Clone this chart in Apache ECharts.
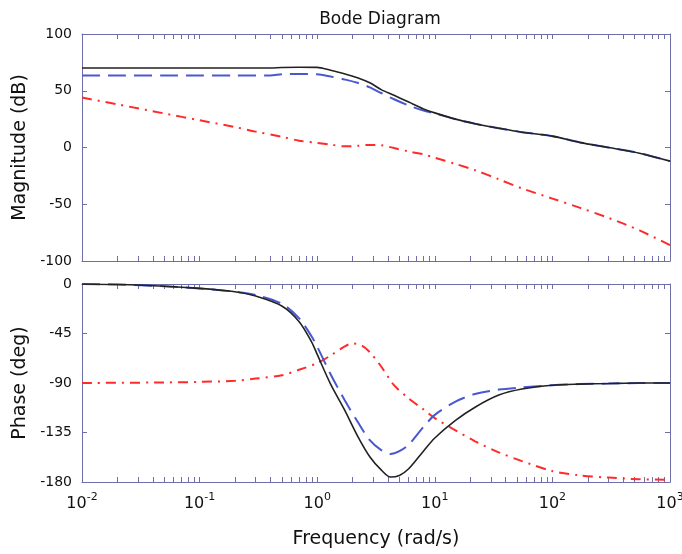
<!DOCTYPE html>
<html>
<head>
<meta charset="utf-8">
<script src="https://cdn.jsdelivr.net/npm/echarts@6/dist/echarts.min.js"></script>
<style>html,body{margin:0;padding:0;background:#fff}#c{width:682px;height:554px}</style>
</head>
<body>
<div id="c"></div>
<script>
// ---- data ----
var freqMagK = [0.01,0.02,0.05,0.1,0.2,0.4,0.5,0.7,1,1.3,1.7,2.2,2.8,3.5,4.5,6,8,10,15,22,35,55,100,170,300,550,1000];
var magK     = [70,70,70,70,70,70,70.5,70.7,70.6,68,65,61.5,57,51,46,40,34,30.5,25,21,17,13.5,10,4.5,0,-5,-12];
var freqMagB = [0.01,0.02,0.05,0.1,0.2,0.4,0.5,0.7,1,1.3,1.7,2.2,2.8,3.5,4.5,6,8,10,15,22,35,55,100,170,300,550,1000];
var magB     = [63.5,63.5,63.5,63.5,63.5,63.5,64.5,64.8,64.5,62.5,60,57,53,48,42.5,37,32.5,30,25,21,17,13.5,10,4.5,0,-5,-12];
var freqMagR = [0.01,0.02,0.05,0.1,0.2,0.3,0.5,0.7,1,1.3,1.7,2.2,2.8,3.5,4.5,6,8,10,15,22,35,55,100,170,300,550,1000];
var magR     = [44,38,30,24,18,14,9.5,6,4,2.5,1,1.5,2.3,2,-0.5,-3.5,-6,-9,-14.5,-20,-28,-36,-45,-53,-62,-73,-86];

var freqPhK = [0.01,0.02,0.05,0.1,0.2,0.3,0.5,0.7,0.9,1,1.3,1.7,2.2,2.8,3.5,4.2,5,6,8,10,15,22,35,55,100,170,300,550,1000];
var phK     = [0,-0.5,-2,-4,-7,-11,-20,-34,-53,-64,-91,-114,-138,-157,-169,-175.5,-174,-168,-152,-140,-124,-112,-101,-95.5,-92,-91,-90.5,-90,-90];
var freqPhB = [0.01,0.02,0.05,0.1,0.2,0.3,0.5,0.7,0.9,1,1.3,1.7,2.2,2.8,3.5,4.2,5,6,8,10,15,22,35,55,100,170,300,550,1000];
var phB     = [0,-0.5,-2,-4,-7,-10,-18,-31,-48,-57,-82,-105,-125,-142,-151,-154.5,-152,-146,-130,-119,-107,-100,-96,-94,-92,-91,-90.5,-90,-90];
var freqPhR = [0.01,0.05,0.1,0.2,0.3,0.5,0.7,1,1.3,1.7,2,2.4,2.8,3.5,4.5,6,8,10,15,22,35,55,100,170,300,550,1000];
var phR     = [-90,-89.5,-89,-88,-86,-83,-78,-72,-65,-57,-54,-56,-62,-75,-92,-104,-114,-122,-133,-143,-153,-161,-170,-174,-176,-177.5,-178];

var magTicks = [-100,-50,0,50,100];
var phaseTicks = [-180,-135,-90,-45,0];
var titleText = 'Bode Diagram';
var magName = 'Magnitude (dB)';
var phaseName = 'Phase (deg)';
var freqName = 'Frequency (rad/s)';

function pairs(xs, ys){ return xs.map(function(x,i){ return [x, ys[i]]; }); }
var minorVals = [];
for (var e = -2; e <= 2; e++) for (var k = 1; k <= 9; k++) minorVals.push(+(k*Math.pow(10,e)).toPrecision(3));
minorVals.push(1000);

var FRAME = '#6e6ea8';
var FONT = 'DejaVu Sans';

function xAx(gi, pos, labels){
  return {
    type:'log', logBase:10, gridIndex:gi, position:pos, min:0.01, max:1000,
    axisLine:{show:true, onZero:false, lineStyle:{color:FRAME, width:1}},
    axisTick:{show:true, inside:true, length:5, customValues:minorVals, lineStyle:{color:FRAME}},
    splitLine:{show:false}, minorTick:{show:false},
    axisLabel: labels ? {
      show:true, margin:10, color:'#111', hideOverlap:false,
      formatter:function(v){ return '{b|10}{e|' + Math.round(Math.log10(v)) + '}'; },
      rich:{ b:{fontFamily:FONT, fontSize:16, color:'#111'}, e:{fontFamily:FONT, fontSize:11, color:'#111', padding:[0,0,12,0]} }
    } : {show:false},
    name: labels ? freqName : '', nameLocation:'middle', nameGap:48,
    nameTextStyle:{fontFamily:FONT, fontSize:19, color:'#111'}
  };
}
function yAx(gi, pos, mn, mx, iv, name){
  return {
    type:'value', gridIndex:gi, position:pos, min:mn, max:mx, interval:iv,
    axisLine:{show:true, onZero:false, lineStyle:{color:FRAME, width:1}},
    axisTick:{show:true, inside:true, length:5, lineStyle:{color:FRAME}},
    splitLine:{show:false},
    axisLabel: name ? {show:true, margin:10, fontFamily:FONT, fontSize:14, color:'#111'} : {show:false},
    name: name || '', nameLocation:'middle', nameGap:50,
    nameTextStyle:{fontFamily:FONT, fontSize:19, color:'#111'}
  };
}

var chart = echarts.init(document.getElementById('c'), null, {renderer:'canvas'});
chart.setOption({
  animation:false,
  backgroundColor:'#fff',
  title:{text:titleText, left:375, top:6, textAlign:'center', textStyle:{fontFamily:FONT, fontSize:17, fontWeight:'normal', color:'#111'}},
  grid:[
    {left:82, top:34, width:588, height:227, outerBoundsMode:'none', containLabel:false},
    {left:82, top:284, width:588, height:198, outerBoundsMode:'none', containLabel:false}
  ],
  xAxis:[ xAx(0,'bottom',false), xAx(0,'top',false), xAx(1,'bottom',true), xAx(1,'top',false) ],
  yAxis:[
    yAx(0,'left',-100,100,50,magName), yAx(0,'right',-100,100,50,null),
    yAx(1,'left',-180,0,45,phaseName), yAx(1,'right',-180,0,45,null)
  ],
  series:[
    {type:'line', xAxisIndex:0, yAxisIndex:0, data:pairs(freqMagR,magR), showSymbol:false, smooth:0.3, lineStyle:{color:'#ff2a2a', width:2, type:[10,6,2,6]}},
    {type:'line', xAxisIndex:0, yAxisIndex:0, data:pairs(freqMagB,magB), showSymbol:false, smooth:0.3, lineStyle:{color:'#4a58d0', width:2, type:[18,8]}},
    {type:'line', xAxisIndex:0, yAxisIndex:0, data:pairs(freqMagK,magK), showSymbol:false, smooth:0.3, lineStyle:{color:'#222', width:1.6}},
    {type:'line', xAxisIndex:2, yAxisIndex:2, data:pairs(freqPhR,phR), showSymbol:false, smooth:0.3, lineStyle:{color:'#ff2a2a', width:2, type:[10,6,2,6]}},
    {type:'line', xAxisIndex:2, yAxisIndex:2, data:pairs(freqPhB,phB), showSymbol:false, smooth:0.3, lineStyle:{color:'#4a58d0', width:2, type:[18,8]}},
    {type:'line', xAxisIndex:2, yAxisIndex:2, data:pairs(freqPhK,phK), showSymbol:false, smooth:0.3, lineStyle:{color:'#222', width:1.6}}
  ]
});
</script>
</body>
</html>
